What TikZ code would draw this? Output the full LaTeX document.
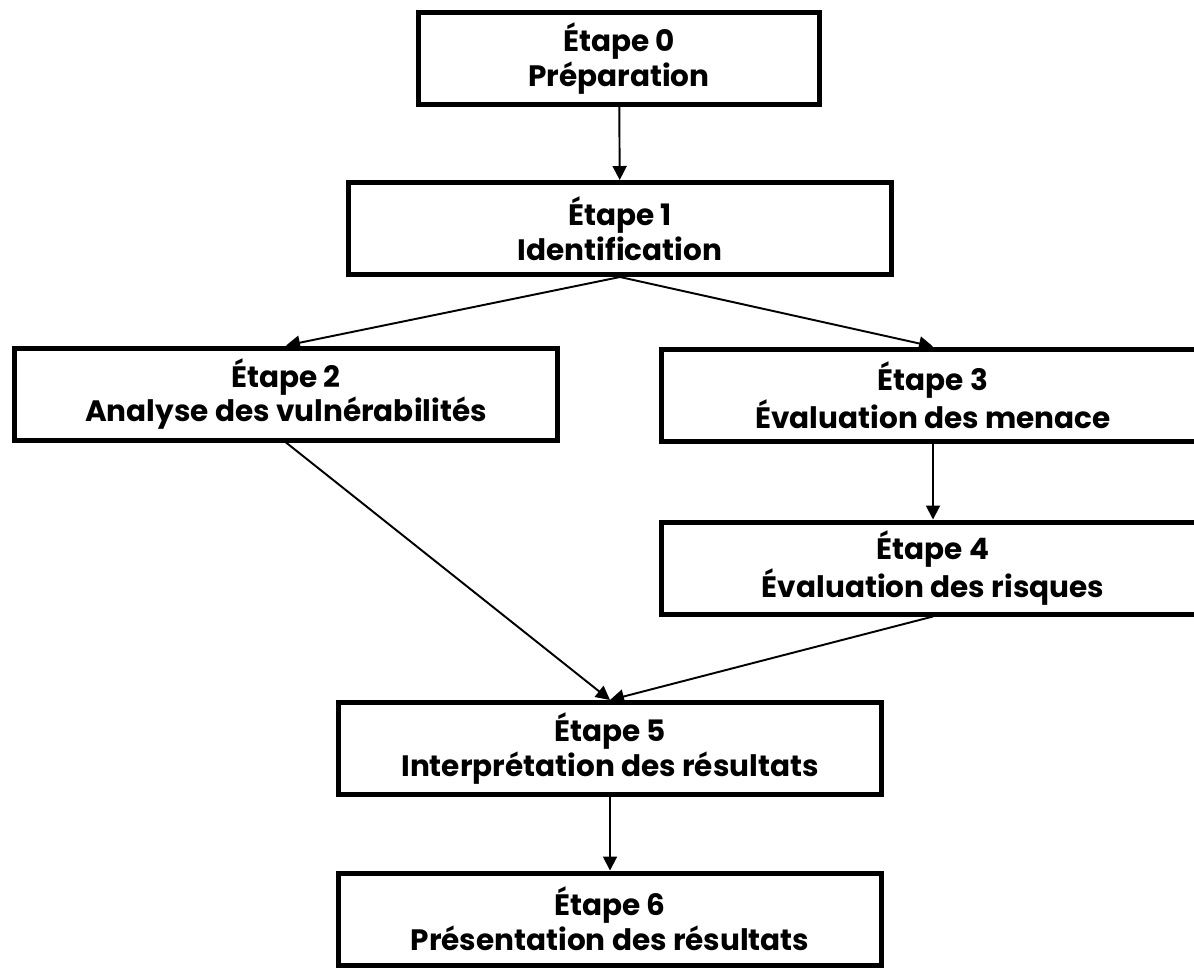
\documentclass[tikz,border=0pt]{standalone}
\usepackage{fontspec}
\setmainfont{Poppins}
\usepackage{tikz}
\usepackage{xcolor}
\usetikzlibrary{arrows.meta,positioning}
\definecolor{ink}{HTML}{000000}
\tikzset{
  stagebox/.style={draw=ink,fill=white,line width=0.1cm,
                   minimum width=10.86cm,minimum height=1.84cm,
                   align=center,inner sep=2pt,
                   font=\fontsize{16.8}{19.8}\selectfont\bfseries},
  flowarr/.style={-{Triangle[length=2.8mm,width=2.8mm]},line width=1.1pt,color=ink}
}
\begin{document}
\begin{tikzpicture}[x=0.02cm,y=-0.02cm]
  \useasboundingbox (0,0) rectangle (1194,968);
  \node[stagebox,minimum width=8.02cm] (s0) at (619,58.5) {Étape 0\\Préparation};
  \node[stagebox] (s1) at (620,228.5) {Étape 1\\Identification};
  \node[stagebox] (s2) at (286,394) {Étape 2\\Analyse des vulnérabilités};
  \node[stagebox] (s3) at (933,395) {Étape 3\\Évaluation des menace};
  \node[stagebox] (s4) at (933,568) {Étape 4\\Évaluation des risques};
  \node[stagebox] (s5) at (610,748.5) {Étape 5\\Interprétation des résultats};
  \node[stagebox] (s6) at (610,919) {Étape 6\\Présentation des résultats};
  \draw[flowarr] (s0) -- (s1);
  \draw[flowarr] (s1.south) -- (s2.north);
  \draw[flowarr] (s1.south) -- (s3.north);
  \draw[flowarr] (s3) -- (s4);
  \draw[flowarr] (s2.south) -- (s5.north);
  \draw[flowarr] (s4.south) -- (s5.north);
  \draw[flowarr] (s5) -- (s6);
\end{tikzpicture}
\end{document}
